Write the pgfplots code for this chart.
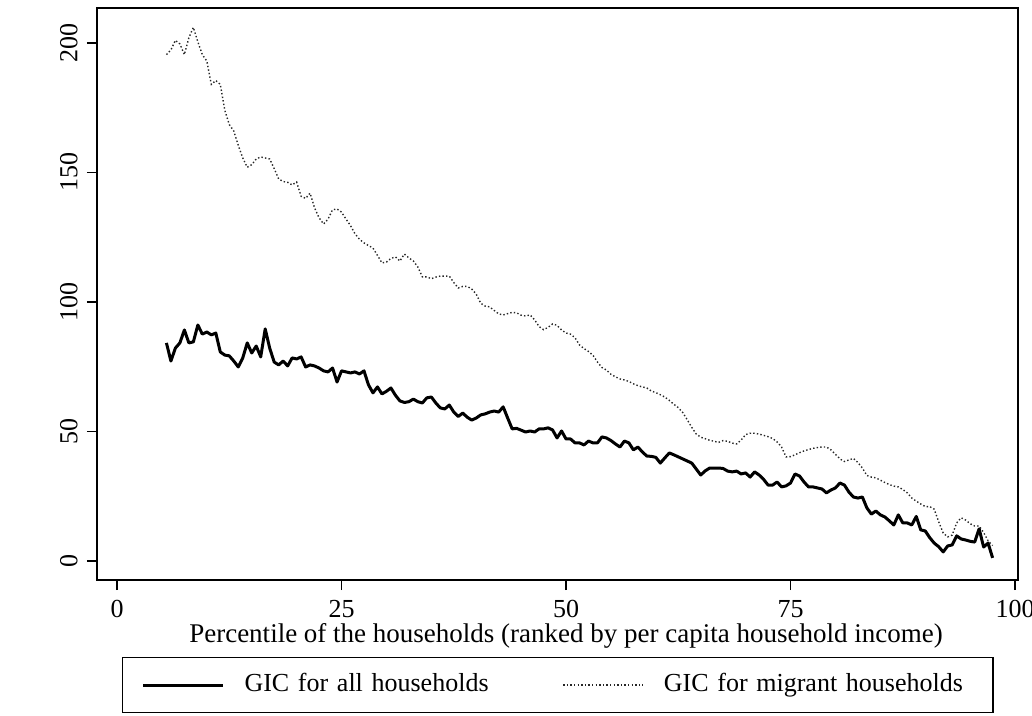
\documentclass[border=0pt]{standalone}
\usepackage{fontspec}
\setmainfont{Liberation Serif}
\usepackage{pgfplots}
\usepackage{pgfplotstable}
\pgfplotsset{compat=1.18}

\pgfplotstableread{
x y
5.5 84.2
6.0 77.2
6.5 82.2
7.0 84.2
7.5 89.2
8.0 84.2
8.5 84.6
9.0 91.1
9.5 87.6
10.0 88.4
10.5 87.3
11.0 88.0
11.5 80.7
12.0 79.5
12.5 79.2
13.0 77.2
13.5 74.9
14.0 78.4
14.5 84.2
15.0 80.3
15.5 83.0
16.0 78.8
16.5 89.6
17.0 82.2
17.5 76.8
18.0 75.7
18.5 77.2
19.0 75.3
19.5 78.4
20.0 78.0
20.5 78.8
21.0 74.9
21.5 75.7
22.0 75.3
22.5 74.5
23.0 73.4
23.5 73.0
24.0 74.5
24.5 69.1
25.0 73.4
25.5 73.0
26.0 72.6
26.5 73.0
27.0 72.2
27.5 73.4
28.0 68.0
28.5 64.9
29.0 67.2
29.5 64.5
30.0 65.5
30.5 66.8
31.0 64.0
31.5 61.8
32.0 61.2
32.5 61.5
33.0 62.5
33.5 61.5
34.0 61.0
34.5 63.0
35.0 63.3
35.5 61.0
36.0 59.1
36.5 58.7
37.0 60.2
37.5 57.5
38.0 55.8
38.5 57.1
39.0 55.5
39.5 54.4
40.0 55.2
40.5 56.4
41.0 56.8
41.5 57.5
42.0 57.9
42.5 57.5
43.0 59.5
43.5 55.2
44.0 51.0
44.5 51.2
45.0 50.5
45.5 49.8
46.0 50.2
46.5 49.8
47.0 51.0
47.5 51.0
48.0 51.4
48.5 50.6
49.0 47.5
49.5 50.2
50.0 47.1
50.5 47.1
51.0 45.6
51.5 45.6
52.0 44.8
52.5 46.3
53.0 45.6
53.5 45.6
54.0 47.9
54.5 47.5
55.0 46.5
55.5 45.2
56.0 44.0
56.5 46.3
57.0 45.6
57.5 42.9
58.0 44.0
58.5 42.1
59.0 40.5
59.5 40.4
60.0 40.0
60.5 37.8
61.0 39.8
61.5 41.7
62.0 41.0
62.5 40.2
63.0 39.4
63.5 38.6
64.0 37.8
64.5 35.5
65.0 33.2
65.5 34.8
66.0 35.9
66.5 35.9
67.0 35.9
67.5 35.7
68.0 34.7
68.5 34.4
69.0 34.7
69.5 33.6
70.0 34.0
70.5 32.4
71.0 34.4
71.5 33.2
72.0 31.5
72.5 29.3
73.0 29.3
73.5 30.5
74.0 28.6
74.5 29.0
75.0 30.1
75.5 33.6
76.0 32.8
76.5 30.5
77.0 28.6
77.5 28.6
78.0 28.2
78.5 27.8
79.0 26.3
79.5 27.4
80.0 28.2
80.5 30.1
81.0 29.3
81.5 26.6
82.0 24.7
82.5 24.3
83.0 24.7
83.5 20.5
84.0 18.1
84.5 19.3
85.0 17.8
85.5 17.0
86.0 15.5
86.5 13.9
87.0 17.8
87.5 14.7
88.0 14.7
88.5 13.9
89.0 17.2
89.5 12.0
90.0 11.6
90.5 9.0
91.0 6.9
91.5 5.5
92.0 3.5
92.5 5.8
93.0 6.2
93.5 9.7
94.0 8.5
94.5 8.1
95.0 7.6
95.5 7.3
96.0 12.4
96.5 5.4
97.0 6.9
97.5 1.2
}\allhh

\pgfplotstableread{
x y
5.5 195.5
6.0 197.3
6.5 201.0
7.0 199.6
7.5 195.5
8.0 202.0
8.5 206.0
9.0 200.4
9.5 195.5
10.0 193.0
10.5 184.0
11.0 185.5
11.5 184.0
12.0 174.0
12.5 168.5
13.0 166.0
13.5 160.5
14.0 155.6
14.5 152.0
15.0 153.0
15.5 155.2
16.0 156.0
16.5 155.6
17.0 155.2
17.5 151.5
18.0 147.5
18.5 146.5
19.0 146.2
19.5 145.2
20.0 146.3
20.5 140.8
21.0 140.0
21.5 142.0
22.0 136.3
22.5 132.5
23.0 130.1
23.5 132.0
24.0 135.6
24.5 135.9
25.0 134.7
25.5 132.0
26.0 129.5
26.5 126.3
27.0 124.2
27.5 122.8
28.0 121.8
28.5 120.8
29.0 118.0
29.5 115.1
30.0 115.4
30.5 116.8
31.0 117.4
31.5 115.8
32.0 118.5
32.5 117.0
33.0 115.8
33.5 113.5
34.0 109.7
34.5 109.7
35.0 109.0
35.5 109.6
36.0 110.0
36.5 110.0
37.0 110.0
37.5 107.5
38.0 105.4
38.5 106.0
39.0 106.0
39.5 105.0
40.0 103.0
40.5 99.5
41.0 98.4
41.5 98.1
42.0 96.7
42.5 95.4
43.0 95.0
43.5 95.5
44.0 96.0
44.5 95.8
45.0 94.9
45.5 94.6
46.0 95.0
46.5 93.1
47.0 90.5
47.5 89.3
48.0 90.2
48.5 91.5
49.0 91.0
49.5 89.2
50.0 88.0
50.5 87.6
51.0 86.2
51.5 83.4
52.0 82.0
52.5 80.9
53.0 79.4
53.5 76.8
54.0 74.7
54.5 73.7
55.0 72.1
55.5 71.1
56.0 70.3
56.5 69.9
57.0 69.3
57.5 68.4
58.0 67.7
58.5 67.2
59.0 66.8
59.5 65.6
60.0 65.0
60.5 64.2
61.0 63.3
61.5 62.0
62.0 60.5
62.5 59.2
63.0 57.3
63.5 54.5
64.0 51.6
64.5 49.0
65.0 47.8
65.5 47.2
66.0 46.6
66.5 46.2
67.0 45.8
67.5 46.5
68.0 46.2
68.5 45.5
69.0 45.2
69.5 46.7
70.0 48.8
70.5 49.3
71.0 49.3
71.5 49.0
72.0 48.5
72.5 48.0
73.0 47.3
73.5 46.0
74.0 44.0
74.5 40.2
75.0 40.3
75.5 41.0
76.0 41.8
76.5 42.5
77.0 43.0
77.5 43.5
78.0 43.8
78.5 44.0
79.0 44.0
79.5 42.9
80.0 41.2
80.5 39.4
81.0 38.4
81.5 39.0
82.0 39.6
82.5 38.0
83.0 35.9
83.5 33.0
84.0 32.4
84.5 32.1
85.0 31.2
85.5 30.3
86.0 29.5
86.5 28.9
87.0 28.6
87.5 27.6
88.0 26.3
88.5 24.3
89.0 23.1
89.5 22.0
90.0 21.0
90.5 21.0
91.0 20.0
91.5 15.1
92.0 10.8
92.5 9.3
93.0 10.0
93.5 14.7
94.0 16.7
94.5 15.8
95.0 14.4
95.5 13.5
96.0 13.5
96.5 11.0
97.0 7.8
97.5 6.0
}\migrant

\begin{document}
\begin{tikzpicture}[font=\fontsize{13}{15.6}\selectfont]
\useasboundingbox (-48.5pt,-68pt) rectangle (467.5pt,290pt);
\begin{axis}[
  scale only axis,
  width=460.5pt, height=286pt,
  at={(0,0)}, anchor=south west,
  xmin=-2.23, xmax=100.33,
  ymin=-7.34, ymax=213.5,
  xtick={0,25,50,75,100},
  ytick={0,50,100,150,200},
  tick align=outside,
  major tick length=5pt,
  tick style={black, line width=0.6pt},
  xtick pos=bottom, ytick pos=left,
  axis line style={line width=0.7pt},
  /pgf/number format/assume math mode=true,
  tick label style={font=\fontsize{13}{15.6}\selectfont},
  yticklabel style={rotate=90, anchor=south, inner sep=0pt, yshift=4.5pt},
  xticklabel style={anchor=north, inner sep=0pt, yshift=-5pt},
  xlabel={Percentile of the households (ranked by per capita household income)},
  xlabel style={at={(axis cs:50,-7.34)}, anchor=north, inner sep=0pt, yshift=-21.5pt,
    font=\fontsize{13.5}{16}\selectfont},
  legend columns=2,
  legend style={at={(rel axis cs:0.0271,-0.1346)}, anchor=north west,
    draw=black, line width=0.6pt, inner xsep=9.5pt, inner ysep=7.75pt,
    font=\fontsize{13}{15.6}\selectfont,
    nodes={inner sep=0pt, anchor=west, text height=9pt, text depth=3pt},
    /tikz/every even column/.append style={column sep=0pt},
    /tikz/every odd column/.append style={column sep=10pt}},
  legend image code/.code={\draw[#1] (0pt,0pt) -- (40pt,0pt);},
]
\addplot[black, line width=1.5pt, line join=round] table[x=x, y=y] {\allhh};
\addlegendentry[text width=159pt, align=left]{GIC for all households}
\addplot[black!85, line width=0.7pt, dash pattern=on 0.7pt off 1.1pt] table[x=x, y=y] {\migrant};
\addlegendentry[text width=155pt, align=left]{GIC for migrant households}
\end{axis}
\end{tikzpicture}
\end{document}
